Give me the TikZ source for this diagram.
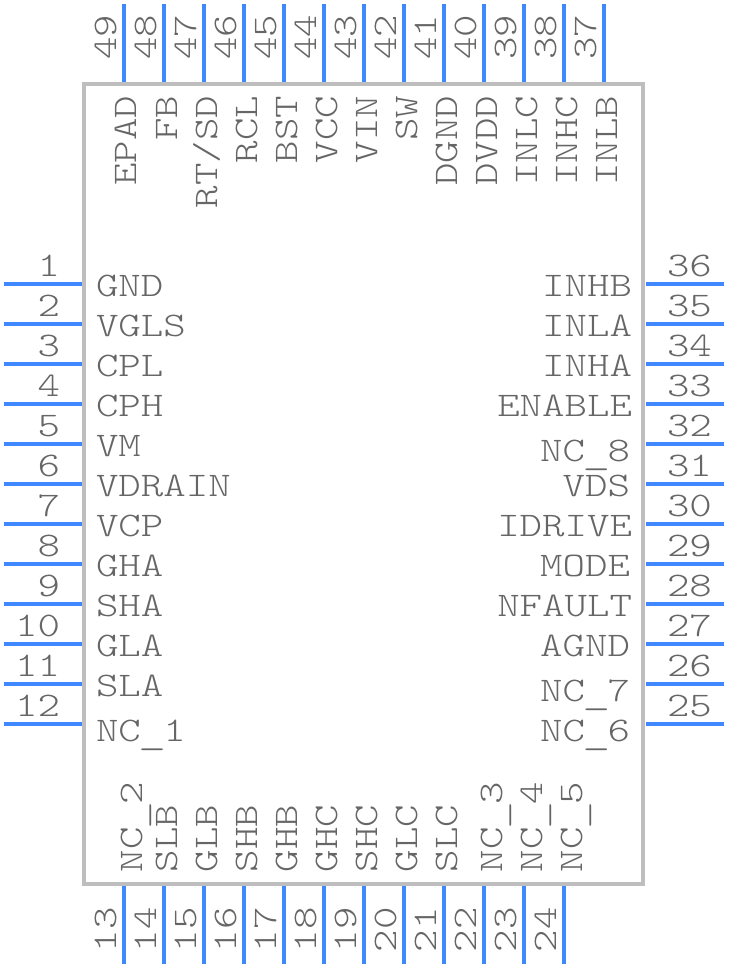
\documentclass[tikz,border=0pt]{standalone}
\usepackage{fontspec}
\newfontfamily\pinfont[FakeStretch=1.24]{Latin Modern Mono Light}
\newcommand\usc{\makebox[22.4pt][c]{\raisebox{-3.5pt}{\scalebox{1.25}[1]{\_}}}}
\definecolor{pincol}{HTML}{4088FF}
\definecolor{bodycol}{HTML}{BEBEBE}
\definecolor{txtcol}{HTML}{666666}
\tikzset{
  x=1pt,y=-1pt,
  body/.style={draw=bodycol,line width=3.6pt,fill=white,rectangle,inner sep=0pt,outer sep=0pt,minimum width=559pt,minimum height=800pt},
  pin/.style={draw=pincol,line width=3.5pt},
  txt/.style={inner sep=0pt,outer sep=0pt,text=txtcol,font=\fontsize{34.5}{36}\pinfont},
  lbl/.style={txt,anchor=base west},
  lblr/.style={txt,anchor=base east},
  vlbl/.style={txt,rotate=90,anchor=base west},
  vlblr/.style={txt,rotate=90,anchor=base east},
}
\begin{document}
\begin{tikzpicture}
\useasboundingbox (0,0) rectangle (728,968);
\node[body] (pkg) at (363.5,484) {};
% left pins
\foreach \n/\y in {1/284,2/324,3/364,4/404,5/444,6/484,7/524,8/564,9/604,10/644,11/684,12/724}{
  \coordinate (la\n) at (4,\y); \coordinate (lb\n) at (82,\y);
  \draw[pin] (la\n) -- (lb\n);
  \node[lblr] (ln\n) at (60,\y-8) {\n};
}
% right pins
\foreach \n/\y in {36/284,35/324,34/364,33/404,32/444,31/484,30/524,29/564,28/604,27/644,26/684,25/724}{
  \coordinate (ra\n) at (646,\y); \coordinate (rb\n) at (724,\y);
  \draw[pin] (ra\n) -- (rb\n);
  \node[lbl] (rn\n) at (667,\y-8) {\n};
}
% top pins
\foreach \n/\x in {49/124,48/164,47/204,46/244,45/284,44/324,43/364,42/404,41/444,40/484,39/524,38/564,37/604}{
  \coordinate (ta\n) at (\x,4); \coordinate (tb\n) at (\x,82);
  \draw[pin] (ta\n) -- (tb\n);
  \node[vlbl] (tn\n) at (\x-8,60) {\n};
}
% bottom pins
\foreach \n/\x in {13/124,14/164,15/204,16/244,17/284,18/324,19/364,20/404,21/444,22/484,23/524,24/564}{
  \coordinate (ba\n) at (\x,886); \coordinate (bb\n) at (\x,964);
  \draw[pin] (ba\n) -- (bb\n);
  \node[vlbl] (bn\n) at (\x-8,952) {\n};
}
% left labels
\foreach \t/\y [count=\i] in {GND/296,VGLS/336,CPL/376,CPH/416,VM/456,VDRAIN/496,VCP/536,GHA/576,SHA/616,GLA/656,SLA/696,NC\usc{}1/741}{
  \node[lbl] (ll\i) at (96,\y) {\t};
}
% right labels
\foreach \t/\x/\y [count=\i] in {INHB/632/296,INLA/632/336,INHA/632/376,ENABLE/632/416,NC\usc{}8/630/461,VDS/630/496,IDRIVE/632/536,MODE/630/576,NFAULT/632/616,AGND/630/656,NC\usc{}7/630/701,NC\usc{}6/630/741}{
  \node[lblr] (rl\i) at (\x,\y) {\t};
}
% top labels
\foreach \t/\x [count=\i] in {EPAD/136,FB/177,{RT/SD}/217,RCL/257,BST/297,VCC/337,VIN/377,SW/417,DGND/457,DVDD/497,INLC/537,INHC/577,INLB/617}{
  \node[vlblr] (tl\i) at (\x,96) {\t};
}
% bottom labels
\foreach \t/\x [count=\i] in {NC\usc{}2/142,SLB/177,GLB/217,SHB/257,GHB/297,GHC/337,SHC/377,GLC/417,SLC/457,NC\usc{}3/502,NC\usc{}4/542,NC\usc{}5/582}{
  \node[vlbl] (bl\i) at (\x,872) {\t};
}
\end{tikzpicture}
\end{document}
